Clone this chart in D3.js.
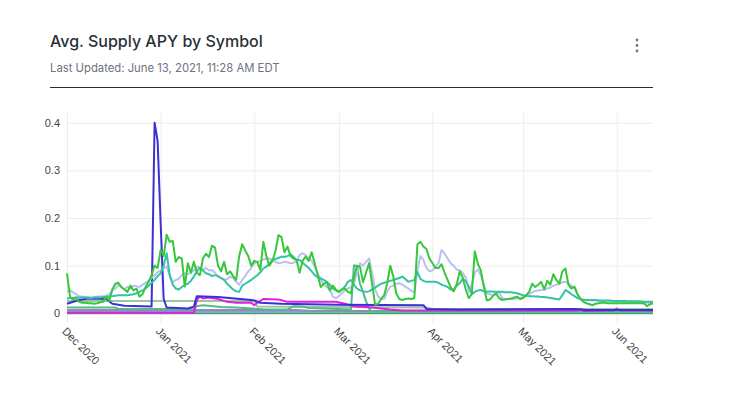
<!DOCTYPE html>
<html>
<head>
<meta charset="utf-8">
<script src="https://cdn.jsdelivr.net/npm/d3@7"></script>
<style>
  body { margin: 0; background: #fff; }
  svg { display: block; font-family: "Open Sans", sans-serif; }
</style>
</head>
<body>
<svg id="chart" width="731" height="394"></svg>
<script>
// Daily series start here, one value per day
const firstDay = "2020-12-01";
const lastDay = "2021-06-13";

// Volatile green series (daily)
const usdtApy = [
  0.084,0.035,0.028,0.033,0.024,0.022,0.022,0.021,0.021,0.020,
  0.021,0.023,0.024,0.035,0.026,0.050,0.062,0.064,0.055,0.050,
  0.045,0.058,0.048,0.052,0.035,0.040,0.055,0.066,0.080,0.100,
  0.095,0.133,0.120,0.165,0.150,0.152,0.108,0.118,0.115,0.056,
  0.105,0.085,0.108,0.085,0.080,0.115,0.125,0.118,0.142,0.138,
  0.100,0.088,0.108,0.082,0.088,0.078,0.070,0.120,0.145,0.132,
  0.120,0.100,0.110,0.108,0.091,0.150,0.120,0.100,0.110,0.130,
  0.164,0.160,0.128,0.140,0.120,0.115,0.112,0.085,0.110,0.119,
  0.110,0.128,0.105,0.080,0.055,0.062,0.065,0.048,0.058,0.050,
  0.045,0.050,0.052,0.045,0.042,0.075,0.100,0.098,0.065,0.085,
  0.105,0.062,0.018,0.020,0.030,0.038,0.062,0.100,0.078,0.042,
  0.030,0.028,0.030,0.031,0.030,0.032,0.145,0.150,0.140,0.135,
  0.115,0.105,0.095,0.095,0.103,0.085,0.070,0.055,0.046,0.060,
  0.088,0.075,0.050,0.032,0.040,0.130,0.104,0.090,0.055,0.027,
  0.029,0.036,0.042,0.032,0.028,0.029,0.030,0.031,0.033,0.035,
  0.030,0.032,0.038,0.045,0.062,0.055,0.060,0.066,0.050,0.068,
  0.060,0.082,0.070,0.062,0.088,0.094,0.060,0.052,0.056,0.040,
  0.030,0.024,0.021,0.019,0.017,0.020,0.021,0.022,0.022,0.021,
  0.021,0.021,0.021,0.021,0.021,0.021,0.021,0.021,0.021,0.021,
  0.021,0.021,0.015,0.019,0.021
];

// Light lavender series (daily)
const daiApy = [
  0.045,0.048,0.044,0.040,0.036,0.035,0.034,0.033,0.033,0.034,
  0.035,0.035,0.036,0.037,0.040,0.048,0.052,0.060,0.055,0.050,
  0.056,0.052,0.058,0.057,0.055,0.060,0.064,0.068,0.074,0.080,
  0.086,0.090,0.094,0.098,0.080,0.065,0.070,0.072,0.080,0.084,
  0.082,0.085,0.090,0.098,0.095,0.091,0.095,0.090,0.091,0.085,
  0.077,0.074,0.070,0.072,0.077,0.074,0.066,0.060,0.070,0.078,
  0.088,0.095,0.105,0.108,0.110,0.113,0.115,0.115,0.112,0.108,
  0.105,0.106,0.108,0.107,0.105,0.106,0.110,0.122,0.126,0.122,
  0.116,0.110,0.098,0.085,0.070,0.060,0.055,0.050,0.035,0.032,
  0.036,0.042,0.048,0.052,0.055,0.062,0.085,0.105,0.100,0.108,
  0.115,0.085,0.050,0.035,0.030,0.030,0.045,0.056,0.058,0.062,
  0.063,0.060,0.056,0.052,0.047,0.044,0.090,0.120,0.112,0.095,
  0.088,0.090,0.098,0.105,0.133,0.125,0.115,0.105,0.100,0.092,
  0.090,0.085,0.075,0.045,0.060,0.085,0.092,0.080,0.060,0.042,
  0.040,0.038,0.040,0.045,0.032,0.030,0.030,0.030,0.030,0.031,
  0.032,0.034,0.038,0.040,0.044,0.047,0.048,0.049,0.050,0.052,
  0.054,0.058,0.060,0.062,0.065,0.066,0.063,0.058,0.052,0.040,
  0.030,0.028,0.028,0.028,0.027,0.027,0.027,0.026,0.026,0.026,
  0.025,0.025,0.025,0.025,0.024,0.024,0.024,0.024,0.023,0.023,
  0.023,0.023,0.022,0.022,0.022
];

// Teal series (daily)
const usdcApy = [
  0.031,0.032,0.032,0.033,0.033,0.033,0.033,0.033,0.032,0.033,
  0.033,0.033,0.034,0.034,0.035,0.036,0.037,0.038,0.038,0.038,
  0.038,0.039,0.040,0.042,0.045,0.048,0.052,0.058,0.064,0.070,
  0.078,0.084,0.100,0.126,0.080,0.060,0.052,0.050,0.055,0.060,
  0.062,0.068,0.077,0.088,0.096,0.090,0.084,0.082,0.078,0.080,
  0.078,0.074,0.070,0.062,0.056,0.050,0.046,0.045,0.058,0.062,
  0.066,0.070,0.075,0.080,0.086,0.094,0.098,0.104,0.112,0.114,
  0.116,0.119,0.118,0.120,0.124,0.118,0.112,0.112,0.106,0.101,
  0.095,0.088,0.080,0.076,0.073,0.070,0.066,0.060,0.052,0.048,
  0.045,0.050,0.056,0.066,0.070,0.060,0.052,0.048,0.046,0.045,
  0.046,0.050,0.054,0.058,0.062,0.064,0.066,0.068,0.070,0.072,
  0.074,0.077,0.072,0.066,0.068,0.070,0.087,0.072,0.068,0.066,
  0.066,0.066,0.066,0.064,0.060,0.058,0.055,0.050,0.049,0.058,
  0.063,0.072,0.068,0.056,0.040,0.045,0.048,0.049,0.046,0.045,
  0.046,0.045,0.045,0.045,0.045,0.044,0.044,0.044,0.043,0.042,
  0.040,0.038,0.037,0.036,0.036,0.035,0.035,0.034,0.034,0.033,
  0.032,0.031,0.030,0.029,0.038,0.049,0.045,0.040,0.036,0.032,
  0.030,0.028,0.028,0.028,0.028,0.028,0.027,0.027,0.027,0.027,
  0.027,0.026,0.026,0.026,0.026,0.026,0.025,0.025,0.025,0.025,
  0.025,0.024,0.024,0.024,0.024
];

// Step-like series, given as [date, value] where the value changes
const wbtcApy = [
  ["2020-12-01",0.020],["2020-12-05",0.028],["2020-12-08",0.031],["2020-12-14",0.030],
  ["2020-12-16",0.020],["2020-12-20",0.016],["2020-12-29",0.014],["2020-12-30",0.400],
  ["2020-12-31",0.362],["2021-01-01",0.190],["2021-01-02",0.030],["2021-01-03",0.012],
  ["2021-01-10",0.010],["2021-01-12",0.014],["2021-01-13",0.036],["2021-01-20",0.034],
  ["2021-01-31",0.028],["2021-02-01",0.027],["2021-02-03",0.022],["2021-02-10",0.020],
  ["2021-03-01",0.018],["2021-03-29",0.017],["2021-03-30",0.009],["2021-04-10",0.008],
  ["2021-05-18",0.009],["2021-05-22",0.007],["2021-06-13",0.007]
];
const tusdApy = [
  ["2020-12-01",0.001],["2021-01-12",0.001],["2021-01-13",0.028],["2021-01-14",0.035],
  ["2021-01-15",0.031],["2021-01-17",0.033],["2021-01-20",0.030],["2021-01-23",0.024],
  ["2021-01-26",0.022],["2021-01-31",0.022],["2021-02-01",0.017],["2021-02-02",0.022],
  ["2021-02-04",0.030],["2021-02-09",0.029],["2021-02-12",0.024],["2021-02-28",0.024],
  ["2021-03-03",0.020],["2021-03-06",0.015],["2021-03-12",0.012],["2021-03-18",0.008],
  ["2021-03-22",0.006],["2021-05-19",0.006],["2021-05-20",0.009],["2021-05-21",0.005],
  ["2021-05-31",0.006],["2021-06-01",0.010],["2021-06-02",0.006],["2021-06-13",0.006]
];
const batApy = [
  ["2020-12-01",0.026],["2021-02-01",0.026],["2021-02-02",0.014],["2021-03-30",0.012],
  ["2021-04-01",0.009],["2021-06-13",0.009]
];
const zrxApy = [
  ["2020-12-01",0.012],["2020-12-17",0.012],["2020-12-18",0.009],["2021-01-12",0.009],
  ["2021-01-13",0.015],["2021-01-15",0.017],["2021-01-21",0.013],["2021-01-26",0.012],
  ["2021-02-05",0.008],["2021-02-12",0.008],["2021-02-14",0.015],["2021-02-17",0.014],
  ["2021-02-19",0.011],["2021-03-05",0.008],["2021-03-06",0.101],["2021-03-07",0.098],
  ["2021-03-08",0.062],["2021-03-09",0.045],["2021-03-10",0.025],["2021-03-11",0.010],
  ["2021-03-12",0.003],["2021-06-13",0.003]
];
const ethApy = [
  ["2020-12-01",0.007],["2021-02-15",0.007],["2021-02-20",0.005],["2021-06-13",0.005]
];
const uniApy = [
  ["2020-12-01",0.004],["2021-06-13",0.004]
];
const compApy = [
  ["2020-12-01",0.000],["2021-06-13",0.000]
];

// Axis labels
const monthTicks = ["2020-12-01","2021-01-01","2021-02-01","2021-03-01","2021-04-01","2021-05-01","2021-06-01"];
const monthLabels = ["Dec 2020","Jan 2021","Feb 2021","Mar 2021","Apr 2021","May 2021","Jun 2021"];
const yTicks = [0, 0.1, 0.2, 0.3, 0.4];
const yTickLabels = ["0","0.1","0.2","0.3","0.4"];

const parseDate = d3.utcParse("%Y-%m-%d");

// Turn a daily array into points
function dailyPoints(values) {
  const start = parseDate(firstDay);
  return values.map((v, i) => ({ date: d3.utcDay.offset(start, i), value: v }));
}
function pairPoints(pairs) {
  return pairs.map(([d, v]) => ({ date: parseDate(d), value: v }));
}

// Drawing order: bottom first
const series = [
  { name: "COMP", color: "#3aa86c", points: pairPoints(compApy) },
  { name: "UNI", color: "#9b93ea", points: pairPoints(uniApy) },
  { name: "ETH", color: "#8a93a6", points: pairPoints(ethApy) },
  { name: "BAT", color: "#9cc79c", points: pairPoints(batApy) },
  { name: "ZRX", color: "#52b98b", points: pairPoints(zrxApy) },
  { name: "TUSD", color: "#e01fe0", points: pairPoints(tusdApy) },
  { name: "WBTC", color: "#3d2fd8", points: pairPoints(wbtcApy) },
  { name: "DAI", color: "#b8c1f3", points: dailyPoints(daiApy) },
  { name: "USDC", color: "#33c3a5", points: dailyPoints(usdcApy) },
  { name: "USDT", color: "#36c73b", points: dailyPoints(usdtApy) },
];

const svg = d3.select("#chart");
const plot = { left: 67, right: 653, top: 113, bottom: 323 };

// Header
svg.append("text")
  .attr("x", 50).attr("y", 47)
  .attr("font-family", "Inter, sans-serif")
  .attr("font-size", 16).attr("font-weight", 500)
  .attr("fill", "#2a2f36")
  .text("Avg. Supply APY by Symbol");

svg.append("text")
  .attr("x", 50).attr("y", 72)
  .attr("font-family", "Inter, sans-serif")
  .attr("font-size", 11.3)
  .attr("fill", "#6b7280")
  .text("Last Updated: June 13, 2021, 11:28 AM EDT");

svg.append("line")
  .attr("x1", 50).attr("x2", 653)
  .attr("y1", 87.5).attr("y2", 87.5)
  .attr("stroke", "#2b2b2b").attr("stroke-width", 1);

svg.selectAll("circle.menu")
  .data([40, 45.5, 51])
  .enter()
  .append("circle")
  .attr("class", "menu")
  .attr("cx", 637).attr("cy", (d) => d)
  .attr("r", 1.4)
  .attr("fill", "#777");

// Scales
const x = d3.scaleUtc()
  .domain([parseDate(firstDay), parseDate(lastDay)])
  .range([plot.left, plot.right]);

const y = d3.scaleLinear()
  .domain([-0.0204, 0.4204])
  .range([plot.bottom, plot.top]);

// Grid + axes
const xAxis = d3.axisBottom(x)
  .tickValues(monthTicks.map(parseDate))
  .tickFormat((d, i) => monthLabels[i])
  .tickSize(-(plot.bottom - plot.top))
  .tickPadding(0);

const gx = svg.append("g")
  .attr("transform", `translate(0,${plot.bottom})`)
  .call(xAxis);
gx.select(".domain").remove();
gx.selectAll("line").attr("stroke", "#ececec");
gx.selectAll("text")
  .attr("font-size", 11)
  .attr("fill", "#444")
  .attr("text-anchor", "start")
  .attr("dy", null)
  .attr("y", null)
  .attr("transform", "translate(-6,9) rotate(45)");

const yAxis = d3.axisLeft(y)
  .tickValues(yTicks)
  .tickFormat((d, i) => yTickLabels[i])
  .tickSize(-(plot.right - plot.left))
  .tickPadding(7);

const gy = svg.append("g")
  .attr("transform", `translate(${plot.left},0)`)
  .call(yAxis);
gy.select(".domain").remove();
gy.selectAll("line").attr("stroke", (d) => (d === 0 ? "none" : "#ececec"));
gy.selectAll("text")
  .attr("font-size", 11)
  .attr("fill", "#444");

// Lines
const line = d3.line()
  .x((d) => x(d.date))
  .y((d) => y(d.value));

svg.append("g")
  .attr("fill", "none")
  .attr("stroke-width", 2)
  .attr("stroke-linejoin", "round")
  .selectAll("path")
  .data(series)
  .enter()
  .append("path")
  .attr("stroke", (d) => d.color)
  .attr("d", (d) => line(d.points));
</script>
</body>
</html>
